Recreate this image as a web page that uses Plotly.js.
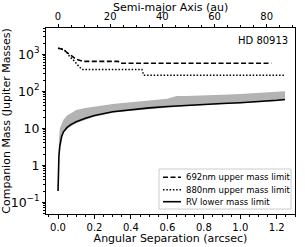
<!DOCTYPE html>
<html><head><meta charset="utf-8">
<script src="https://cdn.plot.ly/plotly-3.0.1.min.js"></script>
<style>html,body{margin:0;padding:0;background:#fff}#c{width:305px;height:247px}</style>
</head><body><div id="c"></div>
<script>
// 692nm upper mass limit
const sep692 = [0.0, 0.01, 0.02, 0.038, 0.05, 0.075, 0.1, 0.139, 0.2, 0.3, 0.33, 0.34, 0.6, 0.9, 1.17];
const mass692 = [1450, 1430, 1380, 1250, 1100, 900, 730, 640, 640, 640, 640, 570, 570, 570, 570];
// 880nm upper mass limit
const sep880 = [0.0, 0.01, 0.02, 0.038, 0.05, 0.065, 0.084, 0.11, 0.13, 0.3, 0.46, 0.47, 0.8, 1.245];
const mass880 = [1450, 1430, 1380, 1250, 1100, 850, 700, 500, 390, 390, 390, 270, 270, 270];
// RV lower mass limit
const sepRV = [0.0, 0.002, 0.005, 0.01, 0.02, 0.03, 0.05, 0.07, 0.1, 0.15, 0.2, 0.3, 0.4, 0.5, 0.6, 0.7, 0.8, 0.9, 1.0, 1.1, 1.2, 1.245];
const massRV = [0.2, 0.8, 1.8, 3.3, 6, 8, 10.5, 12.5, 15, 18.5, 22, 28, 32, 35.5, 38.5, 41.5, 44, 46.5, 49, 52, 57, 60];
// RV range band (upper / lower edges)
const sepBand = [0.0, 0.002, 0.005, 0.01, 0.02, 0.03, 0.05, 0.1, 0.15, 0.2, 0.25, 0.3, 0.4, 0.45, 0.5, 0.6, 0.65, 0.7, 0.8, 0.9, 1.0, 1.1, 1.2, 1.245];
const bandHi = [0.25, 2, 5, 10, 14, 17, 22, 31, 35, 38, 40, 45, 50, 54, 56, 63, 74, 74, 76, 80, 84, 90, 96, 100];
const bandLo = [0.2, 0.75, 1.6, 3.0, 5.5, 7.4, 9.6, 13.8, 17, 20.3, 23, 26, 29.5, 31, 33, 36, 37.5, 39, 41.5, 44, 46.5, 49.5, 54, 57];
const legendNames = ['692nm upper mass limit', '880nm upper mass limit', 'RV lower mass limit'];
const distPc = 69.9;
const xRange = [-0.066, 1.3];

const black = '#000';
const dash692 = '5px,2.5px', dash880 = '1.5px,1.8px';
const traces = [
  {x: sepBand, y: bandLo, mode: 'lines', line: {width: 0, color: 'rgba(0,0,0,0)'}, hoverinfo: 'skip'},
  {x: sepBand, y: bandHi, mode: 'lines', line: {width: 0, color: 'rgba(0,0,0,0)'}, fill: 'tonexty', fillcolor: '#b3b3b3', hoverinfo: 'skip'},
  {x: sep692, y: mass692, mode: 'lines', name: legendNames[0], line: {color: black, width: 1.6, dash: dash692}},
  {x: sep880, y: mass880, mode: 'lines', name: legendNames[1], line: {color: black, width: 1.5, dash: dash880}},
  {x: sepRV, y: massRV, mode: 'lines', name: legendNames[2], line: {color: black, width: 1.6}},
  {x: [0], y: [1], xaxis: 'x2', mode: 'markers', marker: {opacity: 0}, hoverinfo: 'skip'}
];
const tickfont = {family: 'DejaVu Sans', size: 10, color: black};
const titlefont = {family: 'DejaVu Sans', size: 11, color: black};
// manual legend (compact, matplotlib-like)
const px2x = p => (p - 46) / 249, px2y = p => (214 - p) / 186;
const rows = [177.3, 189.7, 201.7];
const dashes = [dash692, dash880, 'solid'];
const shapes = [{type: 'rect', xref: 'paper', yref: 'paper', x0: px2x(159), x1: px2x(291), y0: px2y(209), y1: px2y(169),
                 line: {color: '#cccccc', width: 1}, fillcolor: 'rgba(255,255,255,0.8)', layer: 'above'}];
const annotations = [
  {text: 'HD 80913', xref: 'paper', yref: 'paper', x: 0.98, y: 0.975, xanchor: 'right', yanchor: 'top',
   showarrow: false, font: {family: 'DejaVu Sans', size: 10, color: black}},
  {text: 'Semi-major Axis (au)', xref: 'paper', yref: 'paper', x: px2x(170), y: px2y(0), xanchor: 'center', yanchor: 'top',
   showarrow: false, font: titlefont, borderpad: 0}
];
rows.forEach((r, i) => {
  shapes.push({type: 'line', xref: 'paper', yref: 'paper', x0: px2x(163), x1: px2x(181), y0: px2y(r), y1: px2y(r),
               line: {color: black, width: 1.6, dash: dashes[i]}, layer: 'above'});
  annotations.push({text: legendNames[i], xref: 'paper', yref: 'paper', x: px2x(185), y: px2y(r), xanchor: 'left', yanchor: 'middle',
                    showarrow: false, font: {family: 'DejaVu Sans', size: 8.5, color: black}, borderpad: 0});
});
const layout = {
  width: 305, height: 247,
  margin: {l: 46, r: 10, t: 28, b: 33},
  paper_bgcolor: '#fff', plot_bgcolor: '#fff',
  font: {family: 'DejaVu Sans', color: black},
  showlegend: false,
  xaxis: {range: xRange, tick0: 0, dtick: 0.2, tickformat: '.1f', ticks: 'outside', ticklen: 3.5, tickwidth: 1,
          tickcolor: black, showline: true, linecolor: black, linewidth: 1, showgrid: false, zeroline: false,
          tickfont: tickfont, minor: {dtick: 0.05, ticks: 'outside', ticklen: 2, tickcolor: black},
          title: {text: 'Angular Separation (arcsec)', font: titlefont, standoff: 2}},
  xaxis2: {overlaying: 'x', side: 'top', range: [xRange[0]*distPc, xRange[1]*distPc], tick0: 0, dtick: 20,
           ticks: 'outside', ticklen: 3, tickcolor: black, showline: true, linecolor: black, linewidth: 1,
           showgrid: false, zeroline: false, tickfont: tickfont,
           minor: {dtick: 5, ticks: 'outside', ticklen: 2, tickcolor: black}},
  yaxis: {type: 'log', range: [-1.32, 3.71], dtick: 1, exponentformat: 'power', ticks: 'outside', ticklen: 3.5,
          tickcolor: black, showline: true, linecolor: black, linewidth: 1, mirror: true, showgrid: false, zeroline: false,
          tickfont: tickfont, minor: {dtick: 'D1', ticks: 'outside', ticklen: 2, tickcolor: black},
          title: {text: 'Companion Mass (Jupiter Masses)', font: titlefont, standoff: 2}},
  shapes: shapes,
  annotations: annotations
};
Plotly.newPlot('c', traces, layout, {staticPlot: true, displayModeBar: false});
</script></body></html>
